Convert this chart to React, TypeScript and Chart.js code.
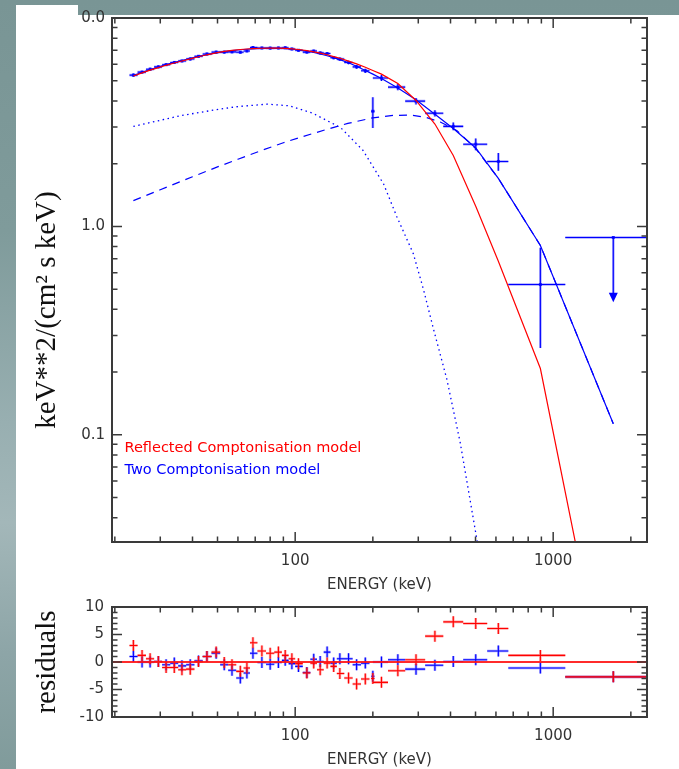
import React, { useEffect, useRef } from "react";
import { Chart, registerables } from "chart.js";

Chart.register(...registerables);

// ---------------- data ----------------
// bin centres (keV)
const energy = [23.6, 25.5, 27.4, 29.5, 31.6, 34.0, 36.4, 39.2, 42.2, 45.5, 49.4, 53.1, 56.9, 61.3, 65.0, 68.6, 74.3, 80.0, 86.1, 91.5, 97.1, 103, 111, 118, 125, 133, 141, 149, 161, 173, 187, 200, 216, 250, 294, 348, 410, 501, 613, 892, 1710];
const energyLo = [22.8, 24.5, 26.4, 28.4, 30.5, 32.8, 35.2, 37.8, 40.7, 43.8, 47.4, 51.2, 55.0, 59.1, 63.1, 66.8, 71.4, 77.1, 83.0, 88.8, 94.3, 100, 107, 114.5, 121.5, 129, 137, 145, 155, 167, 180, 197, 200, 229, 267, 319, 375, 448, 555, 670, 1114];
const energyHi = [24.5, 26.4, 28.4, 30.5, 32.8, 35.2, 37.8, 40.7, 43.8, 47.4, 51.2, 55.0, 59.1, 63.1, 66.8, 71.4, 77.1, 83.0, 88.8, 94.3, 100, 107, 114.5, 121.5, 129, 137, 145, 155, 167, 180, 194, 203, 229, 267, 319, 375, 448, 555, 670, 1114, 2312];
// measured spectrum keV^2 (cm^2 s keV)^-1 and its 1-sigma error
const flux = [5.32, 5.50, 5.68, 5.83, 5.97, 6.12, 6.22, 6.36, 6.55, 6.72, 6.86, 6.86, 6.88, 6.85, 6.95, 7.22, 7.18, 7.17, 7.18, 7.20, 7.10, 7.00, 6.86, 6.94, 6.80, 6.75, 6.45, 6.35, 6.12, 5.83, 5.58, 3.57, 5.15, 4.66, 3.99, 3.49, 3.02, 2.48, 2.05, 0.526, 0.885];
const fluxErr = [0.09, 0.09, 0.09, 0.09, 0.09, 0.09, 0.09, 0.10, 0.10, 0.10, 0.10, 0.10, 0.10, 0.10, 0.10, 0.10, 0.10, 0.10, 0.10, 0.10, 0.10, 0.10, 0.11, 0.11, 0.11, 0.11, 0.11, 0.12, 0.12, 0.12, 0.13, 0.60, 0.17, 0.16, 0.14, 0.12, 0.13, 0.16, 0.20, 0.265, 0];
const upperLimit = [false, false, false, false, false, false, false, false, false, false, false, false, false, false, false, false, false, false, false, false, false, false, false, false, false, false, false, false, false, false, false, false, false, false, false, false, false, false, false, false, true];
const upperLimitArrowTo = 0.433;

// models evaluated at the bin centres
const modelReflected = [5.27, 5.45, 5.62, 5.78, 5.93, 6.08, 6.22, 6.37, 6.52, 6.66, 6.80, 6.91, 6.99, 7.06, 7.10, 7.13, 7.16, 7.17, 7.17, 7.15, 7.11, 7.06, 6.98, 6.88, 6.78, 6.66, 6.53, 6.41, 6.21, 6.02, 5.80, 5.60, 5.38, 4.85, 4.02, 3.10, 2.19, 1.25, 0.68, 0.208, 0.0038];
const modelTwoComp = [5.30, 5.48, 5.65, 5.82, 5.97, 6.12, 6.25, 6.40, 6.54, 6.67, 6.80, 6.90, 6.98, 7.04, 7.08, 7.11, 7.14, 7.15, 7.14, 7.12, 7.08, 7.02, 6.93, 6.83, 6.72, 6.59, 6.45, 6.31, 6.10, 5.87, 5.60, 5.38, 5.12, 4.62, 4.05, 3.45, 2.95, 2.38, 1.70, 0.81, 0.113];

// components of the two-Comptonisation model
const comp1Energy = [23.6, 30, 36, 48, 60, 78, 95, 117, 150, 183, 220, 248, 287, 314, 344, 387, 436, 506, 613];
const comp1Flux = [3.02, 3.23, 3.40, 3.61, 3.76, 3.86, 3.79, 3.49, 2.98, 2.32, 1.60, 1.11, 0.74, 0.50, 0.32, 0.185, 0.092, 0.0315, 0.006];
const comp2Energy = [23.6, 30, 40, 50, 60, 73, 90, 105, 130, 160, 200, 240, 280, 320, 365, 424, 501, 613, 892, 1710];
const comp2Flux = [1.33, 1.50, 1.73, 1.93, 2.10, 2.30, 2.52, 2.68, 2.90, 3.12, 3.32, 3.41, 3.42, 3.34, 3.17, 2.88, 2.36, 1.70, 0.81, 0.113];

// residuals (sigma units)
const residReflected = [3.0, 1.2, 0.6, 0.1, -1.0, -1.0, -1.4, -1.3, 0.1, 1.0, 1.8, -0.1, -0.5, -1.7, -1.1, 3.5, 2.0, 1.6, 1.8, 1.2, 0.6, -0.3, -2.0, -0.2, -1.4, -0.2, -0.8, -2.1, -2.9, -4.0, -3.1, -3.0, -3.7, -1.6, 0.4, 4.7, 7.3, 7.0, 6.1, 1.2, -2.7];
const residTwoComp = [1.0, 0.0, 0.0, 0.1, -0.5, -0.2, -0.7, -0.5, 0.2, 1.0, 1.6, -0.5, -1.5, -2.9, -2.0, 1.6, -0.1, -0.4, -0.1, 0.3, -0.3, -0.8, -1.9, 0.5, 0.1, 1.8, -0.2, 0.6, 0.6, -0.5, -0.2, -2.6, 0.0, 0.4, -1.3, -0.6, 0.1, 0.4, 2.0, -1.1, -2.7];
const residSigma = 1;

// axes
const xRange = [19.5, 2310];
const xTickValues = [100, 1000];
const xTickLabels = ["100", "1000"];
const xMinorTicks = [20, 30, 40, 50, 60, 70, 80, 90, 200, 300, 400, 500, 600, 700, 800, 900, 2000];
const yRange = [0.0306, 10];
const yTickValues = [0.1, 1, 10];
const yTickLabels = ["0.1", "1.0", "0.0"];
const yMinorTicks = [0.04, 0.05, 0.06, 0.07, 0.08, 0.09, 0.2, 0.3, 0.4, 0.5, 0.6, 0.7, 0.8, 0.9, 2, 3, 4, 5, 6, 7, 8, 9];
const residRange = [-10, 10];
const residTickValues = [-10, -5, 0, 5, 10];
const residTickLabels = ["-10", "-5", "0", "5", "10"];
const residMinorTicks = [-9, -8, -7, -6, -4, -3, -2, -1, 1, 2, 3, 4, 6, 7, 8, 9];

const legendLabels = ["Reflected Comptonisation model", "Two Comptonisation model"];
const xTitle = "ENERGY (keV)";

// ---------------- styling ----------------
const RED = "#ff0000";
const BLUE = "#0000ff";
const AXIS = "#3a3a3a";
const TICK_FONT = { family: "'DejaVu Sans', sans-serif", size: 15 };

function framePlugin(xMaj: number[], xMin: number[], yMaj: number[], yMin: number[]) {
  return {
    id: "idlFrame",
    afterDraw(chart: any) {
      const { ctx, chartArea: a, scales } = chart;
      const xs = scales.x;
      const ys = scales.y;
      ctx.save();
      ctx.strokeStyle = AXIS;
      ctx.lineWidth = 1.5;
      ctx.beginPath();
      const xt = (vals: number[], len: number) => {
        vals.forEach((v) => {
          const p = xs.getPixelForValue(v);
          if (p < a.left - 0.5 || p > a.right + 0.5) return;
          ctx.moveTo(p, a.bottom);
          ctx.lineTo(p, a.bottom - len);
          ctx.moveTo(p, a.top);
          ctx.lineTo(p, a.top + len);
        });
      };
      const yt = (vals: number[], len: number) => {
        vals.forEach((v) => {
          const p = ys.getPixelForValue(v);
          if (p < a.top - 0.5 || p > a.bottom + 0.5) return;
          ctx.moveTo(a.left, p);
          ctx.lineTo(a.left + len, p);
          ctx.moveTo(a.right, p);
          ctx.lineTo(a.right - len, p);
        });
      };
      xt(xMaj, 10);
      xt(xMin, 5.5);
      yt(yMaj, 10);
      yt(yMin, 5.5);
      ctx.stroke();
      ctx.lineWidth = 2;
      ctx.strokeRect(a.left, a.top, a.right - a.left, a.bottom - a.top);
      ctx.restore();
    },
  };
}

const errorBarPlugin = {
  id: "errorBars",
  afterDatasetDraw(chart: any, args: any) {
    const ds = chart.data.datasets[args.index];
    const eb = ds.errorBars;
    if (!eb) return;
    const { ctx, chartArea: a } = chart;
    const xs = chart.scales.x;
    const ys = chart.scales.y;
    ctx.save();
    ctx.beginPath();
    ctx.rect(a.left, a.top, a.right - a.left, a.bottom - a.top);
    ctx.clip();
    const pass = (w: number, col: string) => {
      ctx.lineWidth = w;
      ctx.strokeStyle = col;
      ctx.beginPath();
      for (let i = 0; i < eb.x.length; i++) {
        const py = ys.getPixelForValue(eb.y[i]);
        const px = xs.getPixelForValue(eb.x[i]);
        ctx.moveTo(xs.getPixelForValue(eb.xLo[i]), py);
        ctx.lineTo(xs.getPixelForValue(eb.xHi[i]), py);
        if (eb.ul && eb.ul[i]) {
          ctx.moveTo(px, py);
          ctx.lineTo(px, ys.getPixelForValue(eb.ulTo) - 8);
        } else {
          ctx.moveTo(px, ys.getPixelForValue(eb.yHi[i]));
          ctx.lineTo(px, ys.getPixelForValue(eb.yLo[i]));
        }
      }
      ctx.stroke();
    };
    pass(2.6, eb.halo);
    pass(1.1, eb.color);
    if (eb.ul) {
      ctx.fillStyle = eb.color;
      for (let i = 0; i < eb.x.length; i++) {
        if (!eb.ul[i]) continue;
        const px = xs.getPixelForValue(eb.x[i]);
        const tip = ys.getPixelForValue(eb.ulTo);
        ctx.beginPath();
        ctx.moveTo(px, tip);
        ctx.lineTo(px - 4.5, tip - 9.5);
        ctx.lineTo(px + 4.5, tip - 9.5);
        ctx.closePath();
        ctx.fill();
      }
    }
    ctx.restore();
  },
};

function legendPlugin(labels: string[], colors: string[]) {
  return {
    id: "idlLegend",
    afterDraw(chart: any) {
      const { ctx, chartArea: a } = chart;
      ctx.save();
      ctx.font = "14.5px 'DejaVu Sans', sans-serif";
      ctx.textBaseline = "middle";
      ctx.textAlign = "left";
      labels.forEach((t, i) => {
        ctx.fillStyle = colors[i];
        ctx.fillText(t, a.left + 12.5, a.top + 430 + i * 22.7);
      });
      ctx.restore();
    },
  };
}

function xAxis(height: number, titlePadBottom: number) {
  return {
    type: "logarithmic" as const,
    min: xRange[0],
    max: xRange[1],
    grid: { display: false, drawTicks: false },
    border: { display: false },
    afterBuildTicks: (s: any) => {
      s.ticks = xTickValues.map((v) => ({ value: v }));
    },
    afterFit: (s: any) => {
      s.height = height;
      s.paddingLeft = 0;
      s.paddingRight = 0;
    },
    ticks: {
      autoSkip: false,
      maxRotation: 0,
      padding: 10,
      color: "#333",
      font: TICK_FONT,
      callback: (_v: any, i: number) => xTickLabels[i],
    },
    title: {
      display: true,
      text: xTitle,
      color: "#333",
      font: { family: "'DejaVu Sans', sans-serif", size: 15 },
      padding: { top: 0, bottom: titlePadBottom },
    },
  };
}

function pts(xs: number[], ys: number[]) {
  return xs.map((x, i) => ({ x, y: ys[i] }));
}

export default function App() {
  const topRef = useRef<HTMLCanvasElement>(null);
  const botRef = useRef<HTMLCanvasElement>(null);

  useEffect(() => {
    const top = new Chart(topRef.current as HTMLCanvasElement, {
      type: "scatter",
      data: {
        datasets: [
          {
            data: pts(energy, modelReflected),
            showLine: true,
            borderColor: RED,
            borderWidth: 1.2,
            pointRadius: 0,
          },
          {
            data: pts(energy, modelTwoComp),
            showLine: true,
            borderColor: BLUE,
            borderWidth: 1.2,
            pointRadius: 0,
          },
          {
            data: pts(comp2Energy, comp2Flux),
            showLine: true,
            borderColor: BLUE,
            borderWidth: 1.2,
            borderDash: [8, 6],
            pointRadius: 0,
          },
          {
            data: pts(comp1Energy, comp1Flux),
            showLine: true,
            borderColor: BLUE,
            borderWidth: 1.3,
            borderDash: [1.5, 3.5],
            pointRadius: 0,
          },
          {
            data: pts(energy, flux),
            showLine: false,
            pointStyle: "rect",
            pointRadius: 2.1,
            backgroundColor: BLUE,
            borderWidth: 0,
            errorBars: {
              x: energy,
              xLo: energyLo,
              xHi: energyHi,
              y: flux,
              yLo: flux.map((f, i) => f - fluxErr[i]),
              yHi: flux.map((f, i) => f + fluxErr[i]),
              ul: upperLimit,
              ulTo: upperLimitArrowTo,
              color: BLUE,
              halo: "rgba(60,60,255,0.45)",
            },
          } as any,
        ],
      },
      options: {
        animation: false,
        responsive: false,
        maintainAspectRatio: false,
        events: [],
        layout: { padding: { left: 0, right: 32, top: 18, bottom: 0 } },
        plugins: { legend: { display: false }, tooltip: { enabled: false } },
        scales: {
          x: xAxis(58, 5.5),
          y: {
            type: "logarithmic",
            min: yRange[0],
            max: yRange[1],
            grid: { display: false, drawTicks: false },
            border: { display: false },
            afterBuildTicks: (s: any) => {
              s.ticks = yTickValues.map((v) => ({ value: v }));
            },
            afterFit: (s: any) => {
              s.width = 112;
              s.paddingTop = 0;
              s.paddingBottom = 0;
            },
            ticks: {
              autoSkip: false,
              padding: 7,
              color: "#333",
              font: TICK_FONT,
              callback: (_v: any, i: number) => yTickLabels[i],
            },
          },
        },
      } as any,
      plugins: [
        errorBarPlugin,
        framePlugin(xTickValues, xMinorTicks, yTickValues, yMinorTicks),
        legendPlugin(legendLabels, [RED, BLUE]),
      ],
    });

    const bot = new Chart(botRef.current as HTMLCanvasElement, {
      type: "scatter",
      data: {
        datasets: [
          {
            data: [
              { x: xRange[0], y: 0 },
              { x: xRange[1], y: 0 },
            ],
            showLine: true,
            borderColor: "rgba(255,20,20,0.9)",
            borderWidth: 1.8,
            pointRadius: 0,
          },
          {
            data: pts(energy, residReflected),
            showLine: false,
            pointRadius: 0,
            errorBars: {
              x: energy,
              xLo: energyLo,
              xHi: energyHi,
              y: residReflected,
              yLo: residReflected.map((r) => r - residSigma),
              yHi: residReflected.map((r) => r + residSigma),
              color: RED,
              halo: "rgba(255,60,60,0.45)",
            },
          } as any,
          {
            data: pts(energy, residTwoComp),
            showLine: false,
            pointRadius: 0,
            errorBars: {
              x: energy,
              xLo: energyLo,
              xHi: energyHi,
              y: residTwoComp,
              yLo: residTwoComp.map((r) => r - residSigma),
              yHi: residTwoComp.map((r) => r + residSigma),
              color: BLUE,
              halo: "rgba(60,60,255,0.45)",
            },
          } as any,
        ],
      },
      options: {
        animation: false,
        responsive: false,
        maintainAspectRatio: false,
        events: [],
        layout: { padding: { left: 0, right: 32, top: 22, bottom: 0 } },
        plugins: { legend: { display: false }, tooltip: { enabled: false } },
        scales: {
          x: xAxis(52, 0),
          y: {
            type: "linear",
            min: residRange[0],
            max: residRange[1],
            grid: { display: false, drawTicks: false },
            border: { display: false },
            afterBuildTicks: (s: any) => {
              s.ticks = residTickValues.map((v) => ({ value: v }));
            },
            afterFit: (s: any) => {
              s.width = 112;
              s.paddingTop = 0;
              s.paddingBottom = 0;
            },
            ticks: {
              autoSkip: false,
              padding: 8,
              color: "#333",
              font: TICK_FONT,
              callback: (_v: any, i: number) => residTickLabels[i],
            },
          },
        },
      } as any,
      plugins: [errorBarPlugin, framePlugin(xTickValues, xMinorTicks, residTickValues, residMinorTicks)],
    });

    return () => {
      top.destroy();
      bot.destroy();
    };
  }, []);

  const titleStyle: React.CSSProperties = {
    position: "absolute",
    transform: "translate(-50%, -50%) rotate(-90deg)",
    fontFamily: "'Liberation Serif', serif",
    fontSize: 29,
    lineHeight: 1,
    whiteSpace: "nowrap",
    color: "#111",
  };

  return (
    <div
      style={{
        position: "absolute",
        left: 0,
        top: 0,
        width: 679,
        height: 769,
        overflow: "hidden",
        background:
          "linear-gradient(180deg, #799595 0%, #7f9b9b 30%, #98afb1 55%, #a3b7b9 68%, #8da5a7 85%, #809b9b 100%)",
      }}
    >
      <div style={{ position: "absolute", left: 16, top: 15, right: 0, bottom: 0, background: "#ffffff" }} />
      <div style={{ position: "absolute", left: 16, top: 5, width: 62, height: 10, background: "#ffffff" }} />
      <canvas
        ref={topRef}
        width={679}
        height={600}
        style={{ position: "absolute", left: 0, top: 0, width: 679, height: 600 }}
      />
      <canvas
        ref={botRef}
        width={679}
        height={184}
        style={{ position: "absolute", left: 0, top: 585, width: 679, height: 184 }}
      />
      <div style={{ ...titleStyle, left: 45, top: 310 }}>keV**2/(cm² s keV)</div>
      <div style={{ ...titleStyle, left: 45, top: 662 }}>residuals</div>
    </div>
  );
}
